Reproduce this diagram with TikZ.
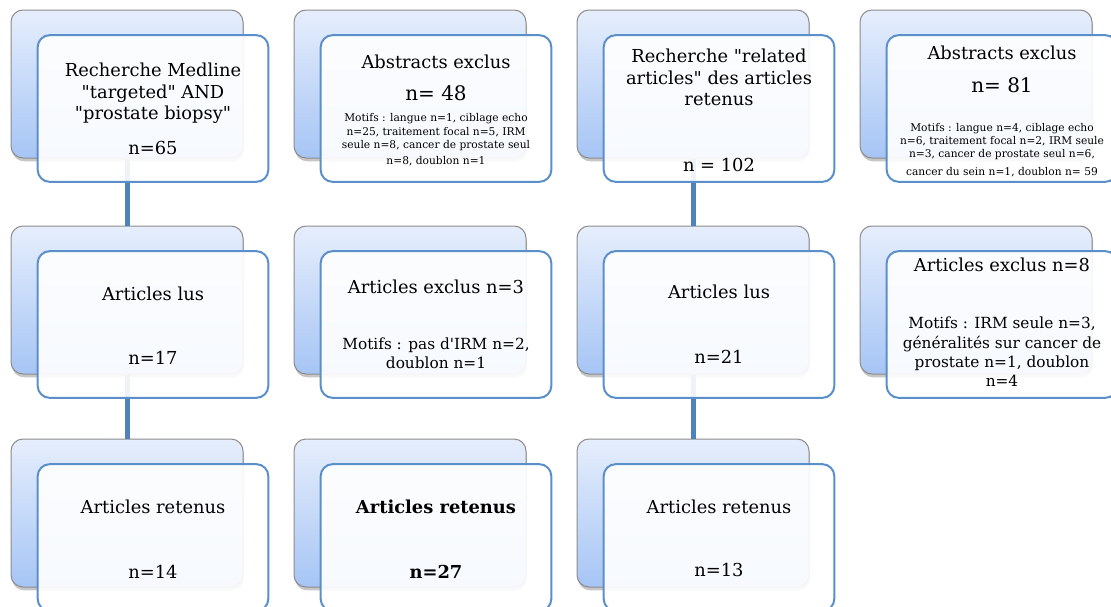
\documentclass[tikz,border=0pt]{standalone}
\usepackage{fontspec}
\setmainfont{DejaVu Serif}
\usetikzlibrary{shadows}

\definecolor{backtop}{HTML}{E6EEFC}
\definecolor{backbottom}{HTML}{A6C5F5}
\definecolor{backline}{HTML}{8C8C8C}
\definecolor{frontline}{HTML}{5B8FC9}
\definecolor{linkblue}{HTML}{4F81BD}

\begin{document}
\begin{tikzpicture}[x=0.75pt,y=-0.75pt]
        % Define the styles for the boxes and texts
        \tikzset{
          back/.style={draw=backline, line width=0.75pt, rounded corners=9pt,
            top color=backtop, bottom color=backbottom,
            drop shadow={shadow xshift=0.75pt, shadow yshift=-2.5pt, opacity=0.45},
            minimum width=174pt, minimum height=111pt, inner sep=0pt},
          front/.style={draw=frontline, line width=1.5pt, rounded corners=9pt,
            fill=white, fill opacity=0.91,
            minimum width=173pt, minimum height=110pt, inner sep=0pt},
          title/.style={font=\fontsize{13.4}{16}\selectfont, align=center, inner sep=0pt},
          count/.style={font=\fontsize{15}{18}\selectfont, inner sep=0pt},
          motif/.style={font=\fontsize{8}{10}\selectfont, align=center, inner sep=0pt},
          reason/.style={font=\fontsize{11.5}{14.5}\selectfont, align=center, inner sep=0pt},
          link/.style={draw=linkblue, line width=3.75pt}
        }
        \useasboundingbox (0,0) rectangle (1111,607);

        % Back boxes
        \node[back] (b11) at (127,84) {};
        \node[back] (b12) at (410,84) {};
        \node[back] (b13) at (693,84) {};
        \node[back] (b14) at (976,84) {};
        \node[back] (b21) at (127,300) {};
        \node[back] (b22) at (410,300) {};
        \node[back] (b23) at (693,300) {};
        \node[back] (b24) at (976,300) {};
        \node[back] (b31) at (127,513) {};
        \node[back] (b32) at (410,513) {};
        \node[back] (b33) at (693,513) {};

        % Edges
        \draw[link] (b11.south) -- (b21.north);
        \draw[link] (b21.south) -- (b31.north);
        \draw[link] (b13.south) -- (b23.north);
        \draw[link] (b23.south) -- (b33.north);

        % Front boxes
        \node[front] (f11) at (153,108.5) {};
        \node[front] (f12) at (436,108.5) {};
        \node[front] (f13) at (719,108.5) {};
        \node[front] (f14) at (1002,108.5) {};
        \node[front] (f21) at (153,324.5) {};
        \node[front] (f22) at (436,324.5) {};
        \node[front] (f23) at (719,324.5) {};
        \node[front] (f24) at (1002,324.5) {};
        \node[front] (f31) at (153,537.5) {};
        \node[front] (f32) at (436,537.5) {};
        \node[front] (f33) at (719,537.5) {};

        % Texts, first row
        \node[title] (t11) at (153,93.5) {Recherche Medline\\\textquotedbl targeted\textquotedbl{} AND\\\textquotedbl prostate biopsy\textquotedbl};
        \node[title] (n11) at (153,148) {n=65};
        \node[title] (t12) at (436,62) {Abstracts exclus};
        \node[count] (n12) at (436,93) {n= 48};
        \node[motif] (m12) at (436,140) {Motifs : langue n=1, ciblage echo\\n=25, traitement focal n=5, IRM\\seule n=8, cancer de prostate seul\\[2pt]n=8, doublon n=1};
        \node[title] (t13) at (719,77.5) {Recherche \textquotedbl related\\articles\textquotedbl{} des articles\\retenus};
        \node[title] (n13) at (719,165) {n = 102};
        \node[title] (t14) at (1002,53) {Abstracts exclus};
        \node[count] (n14) at (1002,85) {n= 81};
        \node[motif] (m14) at (1002,150) {Motifs : langue n=4, ciblage echo\\n=6, traitement focal n=2, IRM seule\\n=3, cancer de prostate seul n=6,\\[3pt]cancer du sein n=1, doublon n= 59};

        % Texts, second row
        \node[title] (t21) at (153,294) {Articles lus};
        \node[title] (n21) at (153,358) {n=17};
        \node[title] (t22) at (436,287) {Articles exclus n=3};
        \node[reason] (m22) at (436,353.5) {Motifs : pas d\textquotesingle IRM n=2,\\doublon n=1};
        \node[title] (t23) at (719,292) {Articles lus};
        \node[title] (n23) at (719,357) {n=21};
        \node[title] (t24) at (1002,265) {Articles exclus n=8};
        \node[reason] (m24) at (1002,352) {Motifs : IRM seule n=3,\\généralités sur cancer de\\prostate n=1, doublon\\n=4};

        % Texts, third row
        \node[title] (t31) at (153,507) {Articles retenus};
        \node[title] (n31) at (153,572) {n=14};
        \node[title] (t32) at (436,507) {\bfseries Articles retenus};
        \node[title] (n32) at (436,572) {\bfseries n=27};
        \node[title] (t33) at (719,507) {Articles retenus};
        \node[title] (n33) at (719,570) {n=13};
\end{tikzpicture}
\end{document}
